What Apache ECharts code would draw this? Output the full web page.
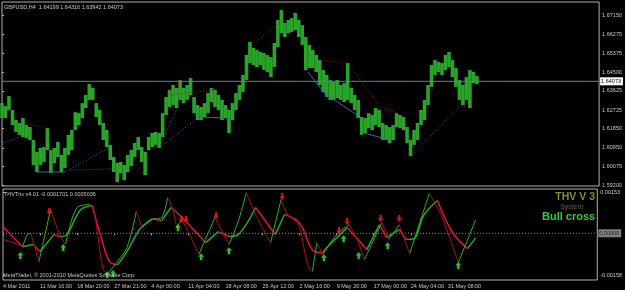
<!DOCTYPE html>
<html><head><meta charset="utf-8">
<script src="https://cdn.jsdelivr.net/npm/echarts@6/dist/echarts.min.js"></script>
<style>html,body{margin:0;padding:0;background:#000;}#c{width:625px;height:290px;}</style>
</head><body><div id="c"></div>
<script>
// ---- data (bar index step = 3 H4 bars) ----
const barStep = 3;
const priceHigh = [1.6305,1.6291,1.6338,1.6273,1.6226,1.6212,1.6235,1.6202,1.6193,1.6132,
1.6076,1.6095,1.6099,1.6188,1.6085,1.6095,1.6123,1.6062,1.6095,1.6156,
1.6179,1.6263,1.6258,1.6305,1.6343,1.6395,1.6376,1.6305,1.6273,1.6212,
1.6179,1.6109,1.6052,1.6024,1.6029,1.6015,1.6062,1.6085,1.6118,1.6146,
1.6099,1.6076,1.6146,1.6165,1.6170,1.6165,1.6258,1.6334,1.6367,1.6390,
1.6376,1.6413,1.6376,1.6390,1.6423,1.6334,1.6296,1.6287,1.6305,1.6352,
1.6376,1.6367,1.6343,1.6320,1.6296,1.6273,1.6305,1.6352,1.6390,1.6437,
1.6531,1.6592,1.6564,1.6554,1.6545,1.6540,1.6531,1.6521,1.6587,1.6695,
1.6742,1.6681,1.6695,1.6704,1.6728,1.6695,1.6671,1.6615,1.6578,1.6554,
1.6531,1.6507,1.6460,1.6437,1.6413,1.6404,1.6413,1.6390,1.6399,1.6493,
1.6376,1.6343,1.6320,1.6240,1.6235,1.6258,1.6249,1.6282,1.6273,1.6212,
1.6202,1.6193,1.6202,1.6258,1.6249,1.6240,1.6193,1.6132,1.6179,1.6212,
1.6273,1.6320,1.6390,1.6484,1.6507,1.6498,1.6493,1.6531,1.6545,1.6507,
1.6470,1.6413,1.6390,1.6427,1.6460,1.6451,1.6432];
const priceLow = [1.6235,1.6235,1.6273,1.6202,1.6170,1.6156,1.6146,1.6141,1.6132,1.6015,
1.5982,1.6015,1.6029,1.6085,1.5977,1.6024,1.6052,1.5982,1.6001,1.6062,
1.6085,1.6179,1.6202,1.6235,1.6282,1.6320,1.6320,1.6240,1.6202,1.6132,
1.6099,1.6038,1.5982,1.5935,1.5977,1.5944,1.5982,1.6010,1.6052,1.6085,
1.6029,1.5968,1.6085,1.6099,1.6109,1.6095,1.6146,1.6249,1.6287,1.6296,
1.6282,1.6320,1.6305,1.6320,1.6343,1.6258,1.6226,1.6226,1.6240,1.6258,
1.6310,1.6287,1.6273,1.6226,1.6235,1.6165,1.6226,1.6273,1.6320,1.6357,
1.6413,1.6493,1.6484,1.6474,1.6484,1.6460,1.6451,1.6427,1.6474,1.6568,
1.6634,1.6615,1.6634,1.6639,1.6648,1.6615,1.6578,1.6460,1.6470,1.6470,
1.6451,1.6390,1.6357,1.6334,1.6320,1.6320,1.6329,1.6320,1.6310,1.6320,
1.6305,1.6273,1.6235,1.6156,1.6165,1.6188,1.6179,1.6202,1.6193,1.6132,
1.6132,1.6118,1.6132,1.6193,1.6188,1.6179,1.6118,1.6057,1.6109,1.6132,
1.6202,1.6226,1.6296,1.6381,1.6437,1.6451,1.6437,1.6460,1.6474,1.6427,
1.6381,1.6320,1.6296,1.6320,1.6282,1.6399,1.6394];
const lastClose = 1.64073;

const priceTicks = [1.67150,1.66275,1.65375,1.64500,1.63625,1.62725,1.61850,1.60950,1.60075,1.59200];
const trixTicks = [0.00153,-0.00158];
const timeLabels = ['4 Mar 2011','11 Mar 16:00','18 Mar 20:00','27 Mar 21:00','4 Apr 00:00','11 Apr 04:00','18 Apr 08:00','25 Apr 12:00','2 May 16:00','9 May 20:00','17 May 00:00','24 May 04:00','31 May 08:00'];
const barsPerLabel = 32;

const fastBars = [0,9,17,21,24,31,41,49,54,64,75,78,86,90,98,107,115,120,129,137,142,146,150,154,158,169,183,195,203,210,218,231,240,247,254,263,267,271,276,288,299,305,312,327,333,342,351,368,378,393,408];
const fastVals = [-0.00023,-0.00035,-0.00050,-0.00005,-0.00001,-0.00106,0.00088,-0.00005,-0.00042,0.00096,0.00107,0.00100,-0.00128,-0.00154,-0.00109,-0.00053,0.00081,0.00021,0.00051,0.00059,0.00133,0.00096,0.00021,0.00051,0.00021,-0.00079,0.00059,-0.00042,0.00044,0.00152,0.00070,-0.00035,0.00126,0.00062,0.00051,-0.00117,-0.00143,-0.00035,-0.00079,-0.00005,0.00032,-0.00016,-0.00098,0.00040,-0.00023,0.00032,-0.00076,0.00148,0.00070,-0.00109,0.00050];
const sigBars = [0,9,17,26,32,44,49,55,67,77,84,92,99,107,115,120,129,137,145,152,163,175,186,195,203,218,229,235,243,248,257,267,276,282,291,297,305,314,325,331,342,348,355,363,375,388,401,408];
const sigVals = [0.00025,-0.00016,-0.00050,-0.00042,-0.00068,-0.00005,-0.00012,-0.00005,0.00088,0.00103,-0.00005,-0.00106,-0.00117,-0.00068,-0.00005,0.00025,0.00055,0.00047,0.00096,0.00070,0.00021,-0.00035,0.00006,-0.00012,-0.00005,0.00096,0.00032,-0.00005,0.00070,0.00062,0.00032,-0.00061,-0.00072,-0.00042,-0.00005,0.00021,-0.00016,-0.00061,0.00032,-0.00016,0.00014,-0.00023,-0.00020,0.00066,0.00122,0.00003,-0.00057,-0.00017];

const sellBars = [40,154,158,184,241,290,297,326,342];
const sellVals = [0.00081,0.00051,0.00051,0.00066,0.00137,0.00010,0.00044,0.00055,0.00055];
const buyBars = [15,52,90,95,151,171,195,277,294,307,332,393];
const buyVals = [-0.00083,-0.00053,-0.00154,-0.00150,0.00021,-0.00087,-0.00065,-0.00091,-0.00020,-0.00083,-0.00046,-0.00120];

const redDotted = [[[24,1.6207],[37,1.6188]],[[142,1.6352],[154,1.6413]],[[142,1.6343],[166,1.6357],[184,1.6367]],[[212,1.6568],[239,1.6681]],[[273,1.6507],[297,1.6493],[314,1.6367],[325,1.6287],[340,1.6258]]];
const blueDotted = [[[1,1.6118],[15,1.6146]],[[54,1.5982],[92,1.6095]],[[58,1.5991],[95,1.5996]],[[135,1.6095],[152,1.6301]],[[135,1.6095],[166,1.6226]],[[352,1.6062],[397,1.6310]]];
const blueSolid = [[[30,1.5982],[54,1.5982]],[[167,1.6240],[196,1.6235]],[[263,1.6451],[277,1.6352],[305,1.6249]],[[311,1.6165],[333,1.6132]]];

// ---- chart ----
const FONT = 'Liberation Sans';
const TXT = '#c8c8c8';
const chart = echarts.init(document.getElementById('c'), null, {renderer:'canvas'});
const totalBars = 513;

const priceData = priceHigh.map((h,i)=>[i*barStep, priceLow[i], h]);

function slopeRuns(xs, ys){
  const up=[], down=[];
  let run=[[xs[0],ys[0]]]; let dir=null;
  for(let i=1;i<xs.length;i++){
    const d = ys[i]>=ys[i-1] ? 'up':'down';
    if(dir!==null && d!==dir){
      (dir==='up'?up:down).push(run);
      run=[[xs[i-1],ys[i-1]]];
    }
    dir=d; run.push([xs[i],ys[i]]);
  }
  (dir==='up'?up:down).push(run);
  return {up, down};
}
const fastRuns = slopeRuns(fastBars, fastVals);
const sigRuns = slopeRuns(sigBars, sigVals);

function segSeries(list, color, dash){
  return list.map(seg=>({type:'line', xAxisIndex:0, yAxisIndex:0, data:seg, symbol:'none', silent:true, z:4,
    lineStyle:{color, width:1, type:dash}}));
}
function runSeries(runs, color, width, z){
  return runs.map(r=>({type:'line', xAxisIndex:1, yAxisIndex:1, data:r, symbol:'none', silent:true, z,
    smooth:0.35, lineStyle:{color, width}}));
}
const upArrow = 'path://M5,0L10,5L7,5L7,10L3,10L3,5L0,5Z';
const downArrow = 'path://M3,0L7,0L7,5L10,5L5,10L0,5L3,5Z';

const option = {
  backgroundColor:'#000',
  animation:false,
  grid:[
    {left:2, top:2, width:601, height:184, show:true, borderColor:'#b0b0b0', borderWidth:1, backgroundColor:'#000'},
    {left:2, top:189, width:601, height:91, show:true, borderColor:'#b0b0b0', borderWidth:1, backgroundColor:'#000'}
  ],
  xAxis:[
    {type:'value', gridIndex:0, min:0, max:totalBars, axisLine:{show:false}, axisTick:{show:false}, axisLabel:{show:false}, splitLine:{show:false}},
    {type:'value', gridIndex:1, min:0, max:totalBars, axisLine:{show:false}, splitLine:{show:false},
      axisTick:{show:true, customValues: timeLabels.map((_,i)=>i*barsPerLabel), length:2, lineStyle:{color:'#b0b0b0'}},
      axisLabel:{show:true, customValues: timeLabels.map((_,i)=>i*barsPerLabel), formatter:v=>timeLabels[Math.round(v/barsPerLabel)]||'',
        align:'left', margin:3, fontSize:5.5, color:TXT, fontFamily:FONT}}
  ],
  yAxis:[
    {type:'value', gridIndex:0, position:'right', min:1.59163, max:1.67793, scale:true, splitLine:{show:false}, axisLine:{show:false},
      axisTick:{show:true, customValues:priceTicks, length:2, lineStyle:{color:'#b0b0b0'}},
      axisLabel:{show:true, customValues:priceTicks, formatter:v=>v.toFixed(5), margin:3, fontSize:5.5, color:TXT, fontFamily:FONT}},
    {type:'value', gridIndex:1, position:'right', min:-0.00174, max:0.00165, splitLine:{show:false}, axisLine:{show:false},
      axisTick:{show:true, customValues:trixTicks, length:2, lineStyle:{color:'#b0b0b0'}},
      axisLabel:{show:true, customValues:trixTicks, formatter:v=>v.toFixed(5), margin:3, fontSize:5.5, color:TXT, fontFamily:FONT}}
  ],
  series:[
    {type:'custom', xAxisIndex:0, yAxisIndex:0, data:priceData, silent:true, z:2, encode:{x:0, y:[1,2]},
      renderItem:(params, api)=>{
        const x = api.value(0);
        const a = api.coord([x, api.value(2)]);
        const b = api.coord([x, api.value(1)]);
        return {type:'line', shape:{x1:a[0], y1:a[1], x2:b[0], y2:b[1]}, style:{stroke:'#28a428', lineWidth:3.6}};
      }},
    {type:'line', xAxisIndex:0, yAxisIndex:0, data:[[0,lastClose],[totalBars,lastClose]], symbol:'none', silent:true, z:3,
      lineStyle:{color:'#5a84a2', width:1},
      endLabel:{show:true, formatter:lastClose.toFixed(5), backgroundColor:'#ffffff', color:'#000', fontSize:5.5, fontFamily:FONT, padding:[1,2,1,1], distance:1}},
    ...segSeries(redDotted, '#a11a1a', [1,2]),
    ...segSeries(blueDotted, '#2a6fb4', [1,2]),
    ...segSeries(blueSolid, '#2a6fb4', 'solid'),
    {type:'line', xAxisIndex:1, yAxisIndex:1, data:[[0,0],[totalBars,0]], symbol:'none', silent:true, z:2,
      lineStyle:{color:'#8a8a8a', width:1, type:[1,2]},
      endLabel:{show:true, formatter:'0.00000', backgroundColor:'#808080', color:'#202020', fontSize:5.5, fontFamily:FONT, padding:[1,2,1,1], distance:1}},
    ...runSeries(sigRuns.up, '#27a827', 1.5, 5),
    ...runSeries(sigRuns.down, '#e01535', 1.5, 5),
    ...runSeries(fastRuns.up, '#2bb52b', 1, 6),
    ...runSeries(fastRuns.down, '#b0101c', 1, 6),
    {type:'scatter', xAxisIndex:1, yAxisIndex:1, data:sellBars.map((b,i)=>[b, sellVals[i]]), symbol:downArrow, symbolSize:[6,7], silent:true, z:8,
      itemStyle:{color:'#ff1a1a'}},
    {type:'scatter', xAxisIndex:1, yAxisIndex:1, data:buyBars.map((b,i)=>[b, buyVals[i]]), symbol:upArrow, symbolSize:[6,7], silent:true, z:8,
      itemStyle:{color:'#33f033'}}
  ],
  graphic:[
    {type:'text', left:4, top:4, z:100, style:{text:'GBPUSD,H4  1.64199 1.64316 1.63942 1.64073', fill:TXT, font:'5.5px "Liberation Sans"'}},
    {type:'text', left:4, top:191, z:100, style:{text:'THVTrix v4.01 -0.0001701 0.0005036', fill:TXT, font:'5.5px "Liberation Sans"'}},
    {type:'text', left:3, top:272, z:100, style:{text:'MetaTrader, © 2001-2010 MetaQuotes Software Corp.', fill:TXT, font:'5.5px "Liberation Sans"'}},
    {type:'text', right:30, top:192, z:100, style:{text:'THV V 3', fill:'#8c8c1e', font:'bold 10.5px "Liberation Sans"'}},
    {type:'text', left:560, top:204, z:100, style:{text:'System', fill:'#5f5f28', font:'7px "Liberation Sans"'}},
    {type:'text', left:542, top:211.5, z:100, style:{text:'Bull cross', fill:'#33cc33', font:'bold 11px "Liberation Sans"'}}
  ]
};
chart.setOption(option);
</script>
</body></html>
